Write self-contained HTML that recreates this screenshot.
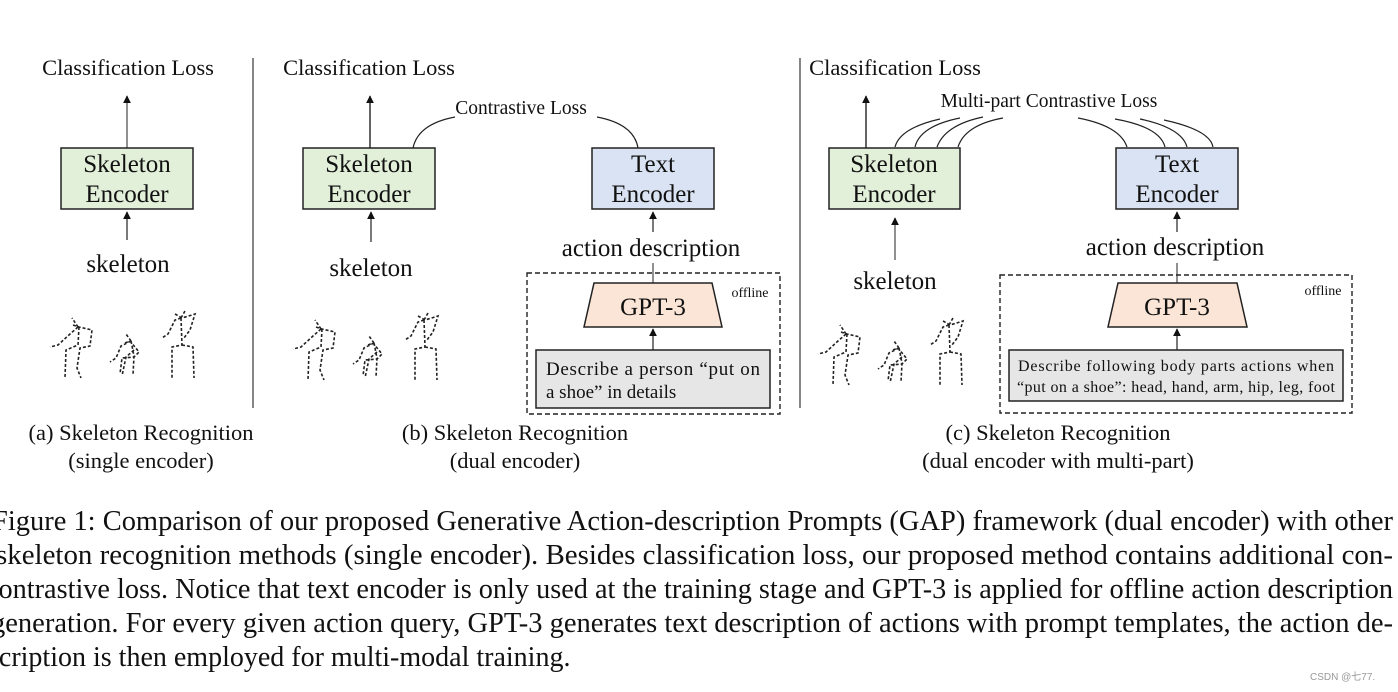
<!DOCTYPE html>
<html><head><meta charset="utf-8"><style>
html,body{margin:0;padding:0;background:#fff;width:1398px;height:692px;overflow:hidden}
svg{display:block;font-family:"Liberation Serif",serif}
</style></head><body>
<svg width="1398" height="692" viewBox="0 0 1398 692" xmlns="http://www.w3.org/2000/svg">
<defs><marker id="ah" viewBox="0 0 10 10" refX="9" refY="5" markerWidth="6" markerHeight="7" orient="auto"><path d="M0,0 L10,5 L0,10z" fill="#111"/></marker></defs>
<g fill="#111" font-size="22.5">
<!-- panel a -->
<text x="128" y="75" text-anchor="middle">Classification Loss</text>
<line x1="127" y1="148" x2="127" y2="96" stroke="#555" stroke-width="1.3" marker-end="url(#ah)"/>
<rect x="61" y="148" width="132" height="61" fill="#e2efd9" stroke="#222" stroke-width="1.5"/>
<text x="127" y="172" text-anchor="middle" font-size="25">Skeleton</text>
<text x="127" y="202" text-anchor="middle" font-size="25">Encoder</text>
<line x1="127" y1="240" x2="127" y2="212" stroke="#333" stroke-width="1.3" marker-end="url(#ah)"/>
<text x="128" y="272" text-anchor="middle" font-size="25">skeleton</text>
<text x="141" y="440" text-anchor="middle">(a) Skeleton Recognition</text>
<text x="141" y="468" text-anchor="middle">(single encoder)</text>
<line x1="253" y1="58" x2="253" y2="408" stroke="#444" stroke-width="1.3"/>
<line x1="800" y1="58" x2="800" y2="408" stroke="#444" stroke-width="1.3"/>
<!-- panel b -->
<text x="369" y="75" text-anchor="middle">Classification Loss</text>
<line x1="370" y1="148" x2="370" y2="96" stroke="#111" stroke-width="1.3" marker-end="url(#ah)"/>
<rect x="303" y="148" width="132" height="61" fill="#e2efd9" stroke="#222" stroke-width="1.5"/>
<text x="369" y="172" text-anchor="middle" font-size="25">Skeleton</text>
<text x="369" y="202" text-anchor="middle" font-size="25">Encoder</text>
<rect x="592" y="148" width="122" height="61" fill="#dae3f3" stroke="#222" stroke-width="1.5"/>
<text x="653" y="172" text-anchor="middle" font-size="25">Text</text>
<text x="653" y="202" text-anchor="middle" font-size="25">Encoder</text>
<text x="521" y="114" text-anchor="middle" font-size="19.5">Contrastive Loss</text>
<path d="M413,148 Q418,124 455,117 M597,117 Q634,124 638,148" fill="none" stroke="#222" stroke-width="1.2"/>
<line x1="371" y1="242" x2="371" y2="212" stroke="#333" stroke-width="1.3" marker-end="url(#ah)"/>
<text x="371" y="276" text-anchor="middle" font-size="25">skeleton</text>
<line x1="653" y1="232" x2="653" y2="212" stroke="#333" stroke-width="1.3" marker-end="url(#ah)"/>
<text x="651" y="256" text-anchor="middle" font-size="25">action description</text>
<line x1="653" y1="283" x2="653" y2="263" stroke="#555" stroke-width="1.3"/>
<rect x="527" y="273" width="253" height="141" fill="none" stroke="#222" stroke-width="1.4" stroke-dasharray="5,3"/>
<polygon points="594,283 712,283 722,327 584,327" fill="#fbe5d6" stroke="#222" stroke-width="1.5"/>
<text x="653" y="315" text-anchor="middle" font-size="25">GPT-3</text>
<text x="750" y="297" text-anchor="middle" font-size="14">offline</text>
<line x1="653" y1="350" x2="653" y2="329" stroke="#333" stroke-width="1.3" marker-end="url(#ah)"/>
<rect x="536" y="350" width="234" height="58" fill="#e6e6e6" stroke="#222" stroke-width="1.5"/>
<text x="546" y="375" font-size="19" textLength="214">Describe a person “put on</text>
<text x="546" y="398" font-size="19">a shoe” in details</text>
<text x="515" y="440" text-anchor="middle">(b) Skeleton Recognition</text>
<text x="515" y="468" text-anchor="middle">(dual encoder)</text>
<!-- panel c -->
<text x="895" y="75" text-anchor="middle">Classification Loss</text>
<line x1="866" y1="148" x2="866" y2="96" stroke="#111" stroke-width="1.3" marker-end="url(#ah)"/>
<rect x="829" y="148" width="131" height="61" fill="#e2efd9" stroke="#222" stroke-width="1.5"/>
<text x="894" y="172" text-anchor="middle" font-size="25">Skeleton</text>
<text x="894" y="202" text-anchor="middle" font-size="25">Encoder</text>
<rect x="1116" y="148" width="122" height="61" fill="#dae3f3" stroke="#222" stroke-width="1.5"/>
<text x="1177" y="172" text-anchor="middle" font-size="25">Text</text>
<text x="1177" y="202" text-anchor="middle" font-size="25">Encoder</text>
<text x="1049" y="107" text-anchor="middle" font-size="19.5">Multi-part Contrastive Loss</text>
<g fill="none" stroke="#222" stroke-width="1.2">
<path d="M895,147 Q900,128 940,119"/><path d="M915,147 Q920,126 960,118"/><path d="M937,147 Q945,125 983,117"/><path d="M958,147 Q965,125 1003,118"/>
<path d="M1078,118 Q1120,126 1127,147"/><path d="M1115,119 Q1160,127 1165,147"/><path d="M1140,119 Q1182,128 1187,147"/><path d="M1164,120 Q1210,130 1213,147"/>
</g>
<line x1="895" y1="260" x2="895" y2="218" stroke="#555" stroke-width="1.3" marker-end="url(#ah)"/>
<text x="895" y="289" text-anchor="middle" font-size="25">skeleton</text>
<line x1="1177" y1="232" x2="1177" y2="212" stroke="#333" stroke-width="1.3" marker-end="url(#ah)"/>
<text x="1175" y="255" text-anchor="middle" font-size="25">action description</text>
<line x1="1177" y1="283" x2="1177" y2="263" stroke="#555" stroke-width="1.3"/>
<rect x="1000" y="275" width="352" height="138" fill="none" stroke="#222" stroke-width="1.4" stroke-dasharray="5,3"/>
<polygon points="1118,283 1237,283 1247,327 1108,327" fill="#fbe5d6" stroke="#222" stroke-width="1.5"/>
<text x="1177" y="315" text-anchor="middle" font-size="25">GPT-3</text>
<text x="1323" y="295" text-anchor="middle" font-size="14">offline</text>
<line x1="1177" y1="350" x2="1177" y2="329" stroke="#333" stroke-width="1.3" marker-end="url(#ah)"/>
<rect x="1009" y="350" width="334" height="51" fill="#e6e6e6" stroke="#222" stroke-width="1.5"/>
<text x="1176" y="371" text-anchor="middle" font-size="16" textLength="316">Describe following body parts actions when</text>
<text x="1176" y="392" text-anchor="middle" font-size="16" textLength="318">“put on a shoe”: head, hand, arm, hip, leg, foot</text>
<text x="1058" y="440" text-anchor="middle">(c) Skeleton Recognition</text>
<text x="1058" y="468" text-anchor="middle">(dual encoder with multi-part)</text>
</g>
<!-- skeletons -->
<g id="sk" fill="none" stroke="#222" stroke-width="1.6" stroke-dasharray="3,2">
<path d="M73,325 L79,327 L92,330 L90,346 L80,348 L77,368 L81,378 M79,327 L78,345 L66,350 L65,378 M78,327 L70,334 L58,345 L50,347 M78,327 L72,318"/>
<path d="M125,343 L130,341 L139,352 L134,357 L122,358 L120,374 M131,341 L121,346 L116,358 L110,362 M131,341 L126,334 M134,350 L126,357 L122,376 M131,341 L134,356 L133,375"/>
<path d="M175,314 L182,318 L195,314 L190,330 L184,338 M181,318 L182,345 L172,347 L172,378 M182,345 L193,347 L194,378 M181,318 L175,320 L168,334 L162,338 M181,318 L185,311"/>
</g>
<use href="#sk" x="243" y="2"/>
<use href="#sk" x="768" y="7"/>
<!-- caption -->
<g fill="#111" font-size="28">
<text x="-8" y="530" textLength="1401" lengthAdjust="spacingAndGlyphs">Figure 1: Comparison of our proposed Generative Action-description Prompts (GAP) framework (dual encoder) with other</text>
<text x="-4" y="564" textLength="1397" lengthAdjust="spacingAndGlyphs">skeleton recognition methods (single encoder).  Besides classification loss, our proposed method contains additional con-</text>
<text x="-14" y="598" textLength="1407" lengthAdjust="spacingAndGlyphs">contrastive loss.  Notice that text encoder is only used at the training stage and GPT-3 is applied for offline action description</text>
<text x="-9" y="632" textLength="1402" lengthAdjust="spacingAndGlyphs">generation.  For every given action query, GPT-3 generates text description of actions with prompt templates, the action de-</text>
<text x="-12" y="666">scription is then employed for multi-modal training.</text>
</g>
<text x="1310" y="680" font-size="10" fill="#999" font-family="Liberation Sans, Noto Sans CJK SC, sans-serif">CSDN @七77.</text>
</svg>
</body></html>
